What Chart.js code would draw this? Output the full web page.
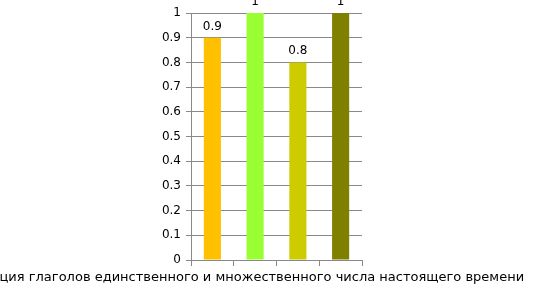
<!DOCTYPE html>
<html>
<head>
<meta charset="utf-8">
<script src="https://cdn.jsdelivr.net/npm/chart.js@4/dist/chart.umd.min.js"></script>
<style>
  html, body { margin: 0; padding: 0; background: #fff; }
  #wrap { width: 534px; height: 290px; }
</style>
</head>
<body>
<div id="wrap"><canvas id="c" width="534" height="290"></canvas></div>
<script>
// chart data
const categories = ['Дифференциация глаголов единственного и множественного числа настоящего времени', '', '', ''];
const values = [0.9, 1, 0.8, 1];
const barColors = ['#FFC000', '#99FF33', '#CCCC00', '#808000'];
const yTicks = [0, 0.1, 0.2, 0.3, 0.4, 0.5, 0.6, 0.7, 0.8, 0.9, 1];

const FONT = 'DejaVu Sans';
const GRID = '#898989';

// value labels above each bar (no datalabels plugin available offline)
const valueLabels = {
  id: 'valueLabels',
  afterDatasetsDraw(chart) {
    const ctx = chart.ctx;
    const meta = chart.getDatasetMeta(0);
    ctx.save();
    ctx.font = '12px "' + FONT + '"';
    ctx.fillStyle = '#000';
    ctx.textAlign = 'center';
    ctx.textBaseline = 'alphabetic';
    meta.data.forEach((bar, i) => {
      ctx.fillText(String(values[i]), bar.x, bar.y - 8);
    });
    ctx.restore();
  }
};

new Chart(document.getElementById('c'), {
  type: 'bar',
  data: {
    labels: categories,
    datasets: [{ data: values, backgroundColor: barColors, borderWidth: 0, categoryPercentage: 1, barPercentage: 0.4 }]
  },
  options: {
    responsive: false,
    animation: false,
    layout: { padding: { top: 13, right: 172, left: 0, bottom: 0 } },
    plugins: { legend: { display: false }, tooltip: { enabled: false } },
    scales: {
      x: {
        grid: { drawOnChartArea: false, drawTicks: true, tickLength: 6, color: GRID, offset: true },
        border: { color: GRID },
        ticks: { autoSkip: false, maxRotation: 0, minRotation: 0, padding: 4, color: '#000', font: { family: FONT, size: 13 } },
        afterFit(s) { s.height = 30; s.paddingLeft = 0; s.paddingRight = 0; }
      },
      y: {
        min: 0, max: 1,
        afterBuildTicks(s) { s.ticks = yTicks.map(v => ({ value: v })); },
        grid: { color: GRID, tickLength: 5 },
        border: { color: GRID },
        ticks: { padding: 5, color: '#000', font: { family: FONT, size: 12 }, callback: v => String(v) },
        afterFit(s) { s.width = 191; }
      }
    }
  },
  plugins: [valueLabels]
});
</script>
</body>
</html>
